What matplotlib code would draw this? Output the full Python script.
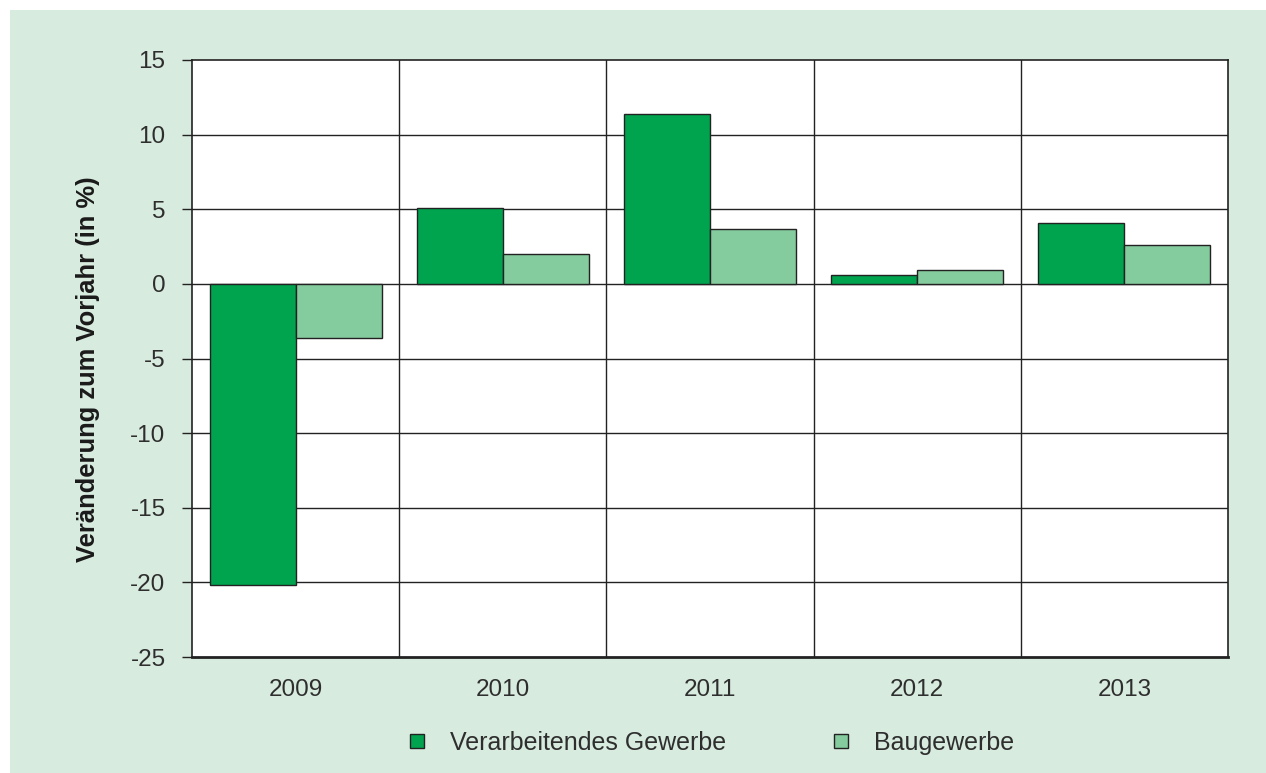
import numpy as np
import matplotlib.pyplot as plt
from matplotlib.patches import Rectangle
from matplotlib.lines import Line2D

years = ['2009', '2010', '2011', '2012', '2013']
verarbeitend = [-20.2, 5.1, 11.4, 0.6, 4.1]
bau = [-3.6, 2.0, 3.7, 0.9, 2.6]
yticks = [-25, -20, -15, -10, -5, 0, 5, 10, 15]

plt.rcParams['font.family'] = ['Liberation Sans', 'DejaVu Sans']

dunkel = '#00a34e'
hell = '#84cb9d'
hintergrund = '#d7ebdf'
text = '#2e2e2e'

fig = plt.figure(figsize=(12.66, 7.73), dpi=100, facecolor='white')
# hellgruener Hintergrund mit weissem Rand oben und links
fig.patches.append(Rectangle((10 / 1266, 0), 1, 1 - 10 / 773, transform=fig.transFigure,
                             facecolor=hintergrund, edgecolor='none', zorder=-10))

ax = fig.add_axes([192 / 1266, 1 - 657 / 773, (1228 - 192) / 1266, (657 - 60) / 773])
ax.set_facecolor('white')

x = np.arange(len(years))
w = 0.415
ax.bar(x - w / 2, verarbeitend, w, color=dunkel, edgecolor='#222222', linewidth=1, zorder=3)
ax.bar(x + w / 2, bau, w, color=hell, edgecolor='#222222', linewidth=1, zorder=3)

ax.set_xlim(-0.5, len(years) - 0.5)
ax.set_ylim(-25, 15)
ax.set_yticks(yticks)
ax.set_yticklabels([str(v) for v in yticks], fontsize=17.5, color=text)
ax.set_xticks(x)
ax.set_xticklabels(years, fontsize=17.5, color=text)
ax.tick_params(axis='x', length=0, pad=16)
ax.tick_params(axis='y', length=7, width=1, color='#222222', pad=12, direction='out')

for v in yticks[1:-1]:
    ax.axhline(v, color='#222222', linewidth=1, zorder=1)
for b in np.arange(0.5, len(years) - 0.5, 1):
    ax.axvline(b, color='#222222', linewidth=1, zorder=1)

for s in ax.spines.values():
    s.set_color('#222222')
    s.set_linewidth(1.2)
ax.spines['bottom'].set_linewidth(2)

ax.set_ylabel('Veränderung zum Vorjahr (in %)', fontsize=18.4, fontweight='bold', color='#1a1a1a')
ax.yaxis.set_label_coords((100 - 192) / 1036, (657 - 369) / 597)

handles = [Line2D([], [], marker='s', linestyle='none', markersize=10,
                  markerfacecolor=dunkel, markeredgecolor='#222222', markeredgewidth=1),
           Line2D([], [], marker='s', linestyle='none', markersize=10,
                  markerfacecolor=hell, markeredgecolor='#222222', markeredgewidth=1)]
fig.legend(handles, ['Verarbeitendes Gewerbe', 'Baugewerbe'], loc='center left',
           bbox_to_anchor=(386 / 1266, 1 - 743 / 773), ncol=2, frameon=False,
           fontsize=18, handlelength=0.7, handletextpad=0.96,
           columnspacing=4.25, labelcolor=text)

fig.savefig('out.png', dpi=100, facecolor=fig.get_facecolor())
